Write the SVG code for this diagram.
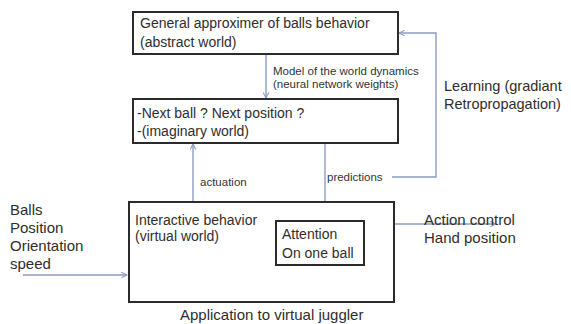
<svg xmlns="http://www.w3.org/2000/svg" width="571" height="324" viewBox="0 0 571 324">
<style>
.box{fill:#fff;stroke:#2b2b2b;stroke-width:2}
.t{font-family:"Liberation Sans",Arial,sans-serif;fill:#2e2e2e}
.m{font-size:14px}
.l{font-size:15px}
.s{font-size:11.5px;fill:#333}
.c{fill:none;stroke:#8a9cc4;stroke-width:1.4}
.d{stroke-dasharray:2 2}
</style>
<defs>
<marker id="ah" viewBox="0 0 10 10" refX="9" refY="5" markerWidth="7" markerHeight="7" orient="auto" markerUnits="userSpaceOnUse">
<path d="M1,1 L9,5 L1,9" fill="none" stroke="#8a9cc4" stroke-width="1.5"/>
</marker>
<marker id="oh" viewBox="0 0 10 10" refX="9" refY="5" markerWidth="6" markerHeight="6" orient="auto" markerUnits="userSpaceOnUse">
<circle cx="5" cy="5" r="3.5" fill="none" stroke="#8a9cc4" stroke-width="1.5"/>
</marker>
</defs>
<g id="connectors">
<line class="c" x1="266" y1="54" x2="266" y2="98" marker-end="url(#ah)"/>
<line class="c" x1="193" y1="201" x2="193" y2="144" marker-end="url(#ah)"/>
<line class="c" x1="325" y1="143" x2="325" y2="220" marker-end="url(#ah)"/>
<polyline class="c" points="392,177 436,177 436,33 399,33" marker-end="url(#ah)"/>
<line class="c" x1="23" y1="275" x2="127" y2="275" marker-end="url(#ah)"/>
<polyline class="c d" points="130,275 203,275 203,254 274,254" marker-end="url(#oh)"/>
<line class="c" x1="394" y1="224" x2="496" y2="224" marker-end="url(#ah)"/>
</g>
<g id="approximer">
<rect class="box" x="133" y="12" width="265" height="42"/>
<text class="t m" x="140" y="28">General approximer of balls behavior</text>
<text class="t m" x="140" y="47">(abstract world)</text>
</g>
<g id="imaginary">
<rect class="box" x="133" y="99" width="265" height="44"/>
<text class="t m" x="137" y="118">-Next ball ? Next position ?</text>
<text class="t m" x="137" y="136">-(imaginary world)</text>
</g>
<g id="interactive">
<rect class="box" x="129" y="202" width="265" height="100"/>
<text class="t m" x="135" y="225">Interactive behavior</text>
<text class="t m" x="135" y="241">(virtual world)</text>
</g>
<g id="attention">
<rect class="box" x="276" y="221" width="88" height="44"/>
<text class="t m" x="282" y="239">Attention</text>
<text class="t m" x="282" y="258">On one ball</text>
</g>
<g id="labels">
<text class="t s" x="273" y="75">Model of the world dynamics</text>
<text class="t s" x="273" y="88">(neural network weights)</text>
<text class="t s" x="200" y="186">actuation</text>
<text class="t s" x="327" y="181">predictions</text>
<text class="t" font-size="14.5" x="444" y="91">Learning (gradiant</text>
<text class="t" font-size="14.5" x="444" y="109">Retropropagation)</text>
<text class="t l" x="10" y="215">Balls</text>
<text class="t l" x="10" y="233">Position</text>
<text class="t l" x="10" y="251">Orientation</text>
<text class="t l" x="10" y="269">speed</text>
<text class="t l" x="424" y="225">Action control</text>
<text class="t l" x="424" y="243">Hand position</text>
<text class="t l" x="180" y="320">Application to virtual juggler</text>
</g>
</svg>
